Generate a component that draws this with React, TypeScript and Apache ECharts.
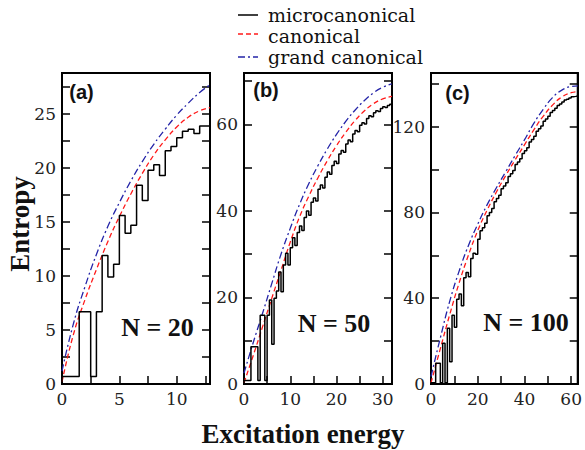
import React, { useEffect, useRef } from "react";
import * as echarts from "echarts";

// ---------- Panel (a): N = 20 ----------
const stepA = 0.5;
const microA = [0.7, 0.7, 0.7, 6.7, 6.7, 0.7, 6.7, 11.9, 9.9, 11.1, 15.6, 13.95, 14.7, 18.4, 17.0, 19.8, 20.3, 19.3, 21.6, 22.0, 22.8, 23.4, 23.6, 23.2, 23.9, 23.9];
const energyA = [0, 1, 2, 3, 4, 5, 6, 7, 8, 9, 10, 11, 12, 12.9];
const canonA = [0.2, 4.6, 7.8, 10.6, 13.2, 15.5, 17.6, 19.5, 21.2, 22.6, 23.8, 24.7, 25.3, 25.6];
const grandA = [1.2, 5.6, 9.0, 12.0, 14.6, 16.8, 18.8, 20.6, 22.2, 23.6, 24.9, 26.0, 27.0, 27.7];
const xMaxA = 12.9, yMaxA = 28.8, xMajorA = 5, yMajorA = 5;

// ---------- Panel (b): N = 50 ----------
const stepB = 0.5;
const microB = [0.8, 0.8, 0.8, 8.6, 8.6, 8.6, 0.8, 15.9, 15.9, 0.8, 15.9, 19.4, 9.2, 19.8, 21.5, 25.9, 21.3, 27.5, 30.2, 27.5,
  31.5, 33.8, 32.0, 35.0, 36.5, 35.5, 38.5, 40.0, 39.0, 42.0, 43.0, 42.3, 45.0, 46.0, 45.3, 47.8, 49.0, 48.5, 50.5, 51.5,
  51.0, 53.2, 54.0, 53.6, 55.5, 56.4, 56.0, 57.8, 58.6, 58.3, 59.8, 60.4, 60.1, 61.4, 62.0, 61.8, 62.7, 63.2, 63.0, 63.7,
  64.1, 63.9, 64.4, 64.7];
const energyB = [0, 2, 4, 6, 8, 10, 12, 14, 16, 18, 20, 22, 24, 26, 28, 30, 32];
const canonB = [0.3, 6.6, 13.2, 19.8, 26.3, 32.8, 38.6, 43.4, 47.7, 51.6, 55.1, 58.2, 60.9, 63.1, 64.8, 65.9, 66.5];
const grandB = [2.5, 9.6, 16.3, 23.2, 30.0, 36.0, 41.5, 46.3, 50.5, 54.3, 57.7, 60.7, 63.3, 65.5, 67.3, 68.6, 69.4];
const xMaxB = 32, yMaxB = 71.9, xMajorB = 10, yMajorB = 20;

// ---------- Panel (c): N = 100 ----------
const stepC = 1;
const microC = [0.6, 0.6, 9.7, 9.7, 0.6, 19.0, 0.6, 26.0, 10.4, 32.0, 26.5, 39.5, 42.0, 36.5, 49.5, 52.0, 50.0, 58.5, 61.0, 60.5,
  67.5, 71.5, 72.8, 75.0, 78.5, 80.0, 81.8, 85.0, 86.5, 88.0, 91.0, 92.3, 93.8, 96.8, 98.0, 99.5, 102.3, 103.5, 105.0, 107.5,
  108.8, 110.2, 112.8, 114.0, 115.5, 117.8, 119.0, 120.3, 122.5, 123.5, 124.8, 126.6, 127.5, 128.6, 129.9, 130.6, 131.5, 132.4, 132.8, 133.3,
  133.9, 134.1, 134.3];
const energyC = [0, 4, 8, 12, 16, 20, 24, 28, 32, 36, 40, 44, 48, 52, 56, 60, 62.8];
const canonC = [0.5, 16.5, 32.3, 47.0, 60.0, 71.5, 81.0, 89.5, 97.2, 104.5, 111.5, 118.5, 124.8, 130.0, 133.8, 135.8, 136.3];
const grandC = [3.5, 21.5, 38.5, 52.5, 64.5, 74.5, 83.5, 91.5, 99.0, 106.5, 113.8, 121.5, 128.0, 133.5, 137.0, 138.7, 139.0];
const xMaxC = 62.8, yMaxC = 145, xMajorC = 20, yMajorC = 40;

const panelLabels = ["(a)", "(b)", "(c)"];
const sizeLabels = ["N = 20", "N = 50", "N = 100"];
const legendNames = ["microcanonical", "canonical", "grand canonical"];
const xTitle = "Excitation energy";
const yTitle = "Entropy";

const SERIF_BOLD = "Liberation Serif";
const SERIF = "DejaVu Serif";
const SANS = "Liberation Sans";
const RED = "#ff1a1a";
const BLUE = "#2424a8";

function stepPoints(vals: number[], w: number, xmax: number) {
  const pts: number[][] = [[0, 0]];
  vals.forEach((v, i) => pts.push([i * w, v]));
  pts.push([xmax, vals[vals.length - 1]]);
  return pts;
}
function pairs(xs: number[], ys: number[]) {
  return xs.map((x, i) => [x, ys[i]]);
}
function fmt(major: number) {
  return (v: number) => {
    const r = v / major;
    return Math.abs(r - Math.round(r)) < 1e-6 ? String(Math.round(v)) : "";
  };
}

export default function App() {
  const ref = useRef<HTMLDivElement>(null);
  useEffect(() => {
    if (!ref.current) return;
    const chart = echarts.init(ref.current, undefined, { renderer: "svg" });

    const panels = [
      { xMax: xMaxA, yMax: yMaxA, xMaj: xMajorA, yMaj: yMajorA, micro: stepPoints(microA, stepA, xMaxA), canon: pairs(energyA, canonA), grand: pairs(energyA, grandA) },
      { xMax: xMaxB, yMax: yMaxB, xMaj: xMajorB, yMaj: yMajorB, micro: stepPoints(microB, stepB, xMaxB), canon: pairs(energyB, canonB), grand: pairs(energyB, grandB) },
      { xMax: xMaxC, yMax: yMaxC, xMaj: xMajorC, yMaj: yMajorC, micro: stepPoints(microC, stepC, xMaxC), canon: pairs(energyC, canonC), grand: pairs(energyC, grandC) },
    ];
    const lefts = [62, 244, 431];
    const grid = lefts.map((l) => ({
      left: l, top: 73, width: 148, height: 311,
      show: true, borderColor: "#000", borderWidth: 2, backgroundColor: "transparent",
    }));
    const tickStyle = { color: "#000", width: 1.5 };
    const axisLineStyle = { color: "#000", width: 2 };
    const label = { fontFamily: SERIF, fontSize: 17, color: "#222" };

    const xAxis: any[] = [];
    const yAxis: any[] = [];
    const series: any[] = [];
    panels.forEach((p, i) => {
      xAxis.push({
        type: "value", gridIndex: i, min: 0, max: p.xMax, interval: p.xMaj / 2,
        axisLine: { show: true, onZero: false, lineStyle: axisLineStyle },
        axisTick: { show: true, inside: true, length: 8, lineStyle: tickStyle },
        axisLabel: { ...label, margin: 6, formatter: fmt(p.xMaj), showMaxLabel: true },
        splitLine: { show: false },
      });
      yAxis.push({
        type: "value", gridIndex: i, min: 0, max: p.yMax, interval: p.yMaj / 2, position: "left",
        axisLine: { show: true, onZero: false, lineStyle: axisLineStyle },
        axisTick: { show: true, inside: true, length: 8, lineStyle: tickStyle },
        axisLabel: { ...label, margin: 6, formatter: fmt(p.yMaj) },
        splitLine: { show: false },
      });
      yAxis.push({
        type: "value", gridIndex: i, min: 0, max: p.yMax, interval: p.yMaj / 2, position: "right",
        axisLine: { show: true, onZero: false, lineStyle: axisLineStyle },
        axisTick: { show: true, inside: true, length: 8, lineStyle: tickStyle },
        axisLabel: { show: false },
        splitLine: { show: false },
      });
      series.push({
        type: "line", xAxisIndex: i, yAxisIndex: 2 * i, data: p.grand, symbol: "none",
        smooth: 0.5,
        lineStyle: { color: BLUE, width: 1.3, type: [7, 3, 2, 3] },
      });
      series.push({
        type: "line", xAxisIndex: i, yAxisIndex: 2 * i, data: p.canon, symbol: "none",
        smooth: 0.5,
        lineStyle: { color: RED, width: 1.3, type: [5, 3] },
      });
      series.push({
        type: "line", xAxisIndex: i, yAxisIndex: 2 * i, data: p.micro, symbol: "none",
        step: "end",
        lineStyle: { color: "#000", width: 1.5 },
      });
    });

    const txt = (text: string, x: number, y: number, size: number, family: string, weight: string, extra: any = {}) => ({
      type: "text", x, y, ...extra,
      style: { text, fontSize: size, fontFamily: family, fontWeight: weight, fill: "#111", align: "center", verticalAlign: "middle" },
    });
    const legendY = [15, 34, 57];
    const legendText = [14.5, 35.5, 56.5];
    const legendStyles = [
      { stroke: "#000", lineWidth: 1.5 },
      { stroke: RED, lineWidth: 1.3, lineDash: [5, 3] },
      { stroke: BLUE, lineWidth: 1.3, lineDash: [7, 3, 2, 3] },
    ];
    const graphic: any[] = [];
    legendNames.forEach((n, i) => {
      graphic.push({ type: "line", shape: { x1: 238, y1: legendY[i], x2: 258, y2: legendY[i] }, style: legendStyles[i] });
      graphic.push({
        type: "text", x: 268, y: legendText[i],
        style: { text: n, fontSize: 19, fontFamily: SERIF, fill: "#111", align: "left", verticalAlign: "middle" },
      });
    });
    const plPos = [[81.5, 92], [266, 90], [457.5, 92.5]];
    const nPos = [[157.5, 327], [334, 323.5], [526, 322]];
    panelLabels.forEach((t, i) => graphic.push(txt(t, plPos[i][0], plPos[i][1], 20, SANS, "bold")));
    sizeLabels.forEach((t, i) => graphic.push(txt(t, nPos[i][0], nPos[i][1], 26, SERIF_BOLD, "bold")));
    graphic.push(txt(xTitle, 303, 434, 27, SERIF_BOLD, "bold"));
    graphic.push(txt(yTitle, 20, 224, 27, SERIF_BOLD, "bold", { rotation: Math.PI / 2 }));

    chart.setOption({
      animation: false,
      backgroundColor: "#fff",
      grid, xAxis, yAxis, series, graphic,
    });
    return () => chart.dispose();
  }, []);
  return <div ref={ref} style={{ position: "absolute", left: 0, top: 0, width: 585, height: 450 }} />;
}
